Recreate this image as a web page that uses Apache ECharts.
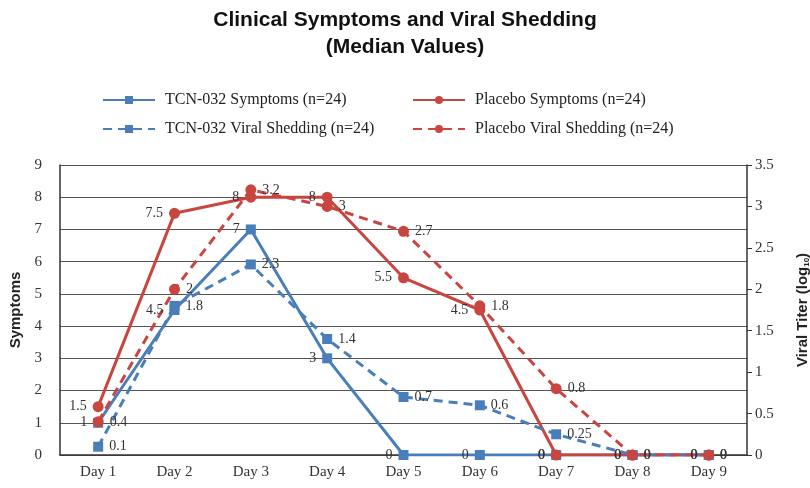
<!DOCTYPE html>
<html>
<head>
<meta charset="utf-8">
<script src="https://cdn.jsdelivr.net/npm/echarts@6/dist/echarts.min.js"></script>
<style>html,body{margin:0;padding:0;background:#fff}#c{width:810px;height:488px}</style>
</head>
<body>
<div id="c"></div>
<script>
const days = ['Day 1','Day 2','Day 3','Day 4','Day 5','Day 6','Day 7','Day 8','Day 9'];
const tcnSymptoms = [1, 4.5, 7, 3, 0, 0, 0, 0, 0];
const placeboSymptoms = [1.5, 7.5, 8, 8, 5.5, 4.5, 0, 0, 0];
const tcnViral = [0.1, 1.8, 2.3, 1.4, 0.7, 0.6, 0.25, 0, 0];
const placeboViral = [0.4, 2, 3.2, 3, 2.7, 1.8, 0.8, 0, 0];
const symptomTicks = [0, 9, 1];
const viralTicks = [0, 3.5, 0.5];

const BLUE = '#4a7ebb', RED = '#c9453f';
const serif = '"Liberation Serif","Times New Roman",serif';
const sans = '"Liberation Sans",Arial,sans-serif';

function lbl(pos) {
  return { show: true, position: pos, distance: 6, color: '#333', fontFamily: serif, fontSize: 14 };
}
const legendText = { fontFamily: serif, fontSize: 16, color: '#222', padding: [0, 0, 0, 5] };

const chart = echarts.init(document.getElementById('c'), null, { renderer: 'canvas' });
chart.setOption({
  animation: false,
  backgroundColor: '#fff',
  title: {
    text: 'Clinical Symptoms and Viral Shedding\n(Median Values)',
    left: 'center', top: 2,
    textStyle: { fontFamily: sans, fontWeight: 'bold', fontSize: 21, lineHeight: 27, color: '#111' }
  },
  legend: [
    { data: ['TCN-032 Symptoms (n=24)', 'TCN-032 Viral Shedding (n=24)'], orient: 'vertical',
      left: 102, top: 92, itemWidth: 52, itemHeight: 10, itemGap: 13, padding: 0,
      textStyle: legendText },
    { data: ['Placebo Symptoms (n=24)', 'Placebo Viral Shedding (n=24)'], orient: 'vertical',
      left: 412, top: 92, itemWidth: 52, itemHeight: 10, itemGap: 13, padding: 0,
      textStyle: legendText }
  ],
  grid: { left: 60, right: 63, top: 165, bottom: 33, containLabel: false, outerBoundsMode: 'none' },
  xAxis: {
    type: 'category', data: days, boundaryGap: true,
    axisLine: { lineStyle: { color: '#333', width: 1.5 } },
    axisTick: { show: false },
    axisLabel: { color: '#333', fontFamily: serif, fontSize: 15, margin: 10 }
  },
  yAxis: [
    { type: 'value', min: symptomTicks[0], max: symptomTicks[1], interval: symptomTicks[2],
      name: 'Symptoms', nameLocation: 'middle', nameGap: 36,
      nameTextStyle: { fontFamily: sans, fontWeight: 'bold', fontSize: 15, color: '#222' },
      axisLine: { show: true, lineStyle: { color: '#333', width: 1.5 } },
      axisTick: { show: false },
      axisLabel: { color: '#333', fontFamily: serif, fontSize: 15, margin: 18 },
      splitLine: { show: true, lineStyle: { color: '#555', width: 1.2 } } },
    { type: 'value', min: viralTicks[0], max: viralTicks[1], interval: viralTicks[2], position: 'right',
      name: '{a|Viral Titer (log}{s|10}{a|)}', nameLocation: 'middle', nameGap: 48, nameRotate: 90,
      nameTextStyle: { rich: {
        a: { fontFamily: sans, fontWeight: 'bold', fontSize: 15, color: '#222' },
        s: { fontFamily: sans, fontWeight: 'bold', fontSize: 8, color: '#222', padding: [8, 0, 0, 0] } } },
      axisLine: { show: true, lineStyle: { color: '#333', width: 1.5 } },
      axisTick: { show: true, inside: false, length: 5, lineStyle: { color: '#333' } },
      axisLabel: { color: '#333', fontFamily: serif, fontSize: 15, margin: 8 },
      splitLine: { show: false } }
  ],
  series: [
    { name: 'TCN-032 Symptoms (n=24)', type: 'line', yAxisIndex: 0, data: tcnSymptoms,
      symbol: 'rect', symbolSize: 10, color: BLUE, lineStyle: { width: 3, color: BLUE },
      itemStyle: { color: BLUE }, label: lbl('left') },
    { name: 'Placebo Symptoms (n=24)', type: 'line', yAxisIndex: 0, data: placeboSymptoms,
      symbol: 'circle', symbolSize: 11, color: RED, lineStyle: { width: 3, color: RED },
      itemStyle: { color: RED }, label: lbl('left') },
    { name: 'TCN-032 Viral Shedding (n=24)', type: 'line', yAxisIndex: 1, data: tcnViral,
      symbol: 'rect', symbolSize: 10, color: BLUE, lineStyle: { width: 3, color: BLUE, type: [9, 6] },
      itemStyle: { color: BLUE }, label: lbl('right') },
    { name: 'Placebo Viral Shedding (n=24)', type: 'line', yAxisIndex: 1, data: placeboViral,
      symbol: 'circle', symbolSize: 11, color: RED, lineStyle: { width: 3, color: RED, type: [9, 6] },
      itemStyle: { color: RED }, label: lbl('right') }
  ]
});
</script>
</body>
</html>
